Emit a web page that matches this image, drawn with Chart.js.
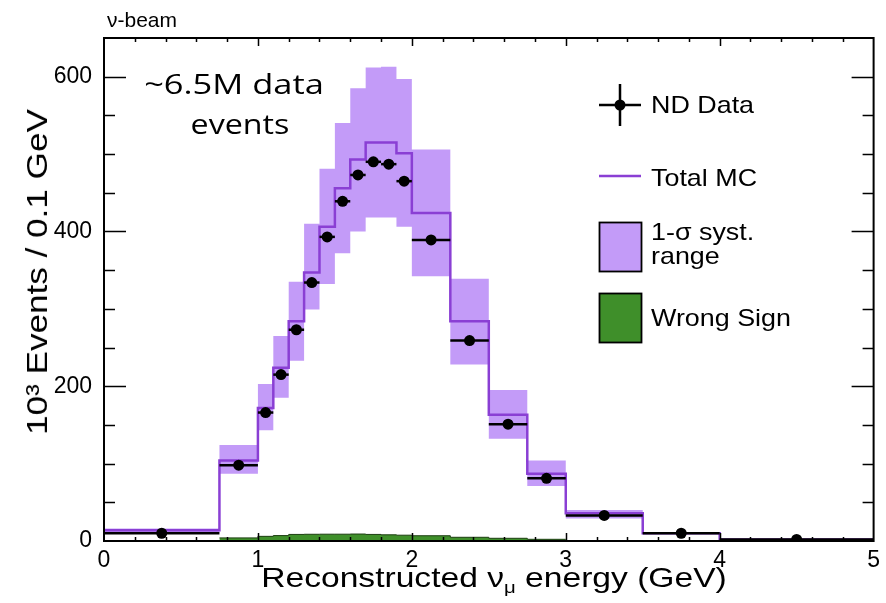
<!DOCTYPE html>
<html>
<head>
<meta charset="utf-8">
<script src="https://cdn.jsdelivr.net/npm/chart.js@4.4.1/dist/chart.umd.min.js"></script>
<style>
  body { margin: 0; background: #fff; }
  #wrap { position: relative; width: 886px; height: 603px; }
  #c { position: absolute; left: 0; top: 0; }
  .t { position: absolute; white-space: nowrap; line-height: 1; color: #000;
       font-family: "Liberation Sans", Arial, sans-serif; transform-origin: 0 0; }
  .note { font-family: "Open Sans", sans-serif; font-size: 28px; width: 300px; text-align: center;
          transform-origin: 50% 50%; transform: scaleX(1.15); }
  .leg { font-size: 24px; transform: scaleX(1.12); }
</style>
</head>
<body>
<div id="wrap">
  <canvas id="c" width="886" height="603"></canvas>
  <div class="t" style="left:107px;top:9px;font-size:21px">ν-beam</div>
  <div class="t note" style="left:84px;top:69px;transform:scaleX(1.23)">~6.5M data</div>
  <div class="t note" style="left:90px;top:109px">events</div>
  <div class="t leg" style="left:651px;top:93px">ND Data</div>
  <div class="t leg" style="left:651px;top:166px">Total MC</div>
  <div class="t leg" style="left:651px;top:220px">1-σ syst.</div>
  <div class="t leg" style="left:651px;top:244px">range</div>
  <div class="t leg" style="left:651px;top:306px">Wrong Sign</div>
  <div class="t" style="left:37px;top:272px;font-size:30px;transform-origin:50% 50%;transform:translate(-50%,-50%) rotate(-90deg) scaleX(1.17)">10³ Events / 0.1 GeV</div>
  <div class="t" style="left:494px;top:564px;font-size:28px;transform-origin:50% 50%;transform:translateX(-50%) scaleX(1.2)">Reconstructed ν<sub style="font-size:17px;vertical-align:-6px">μ</sub> energy (GeV)</div>
</div>
<script>
// bin edges in GeV (variable width histogram)
const binEdges = [0, 0.75, 1.0, 1.1, 1.2, 1.3, 1.4, 1.5, 1.6, 1.7, 1.8, 1.9, 2.0, 2.25, 2.5, 2.75, 3.0, 3.5, 4.0, 5.0];
// values per bin, 10^3 events / 0.1 GeV
const totalMC  = [14, 104, 172, 224, 284, 347, 406, 456, 493, 515, 515, 501, 424, 284, 163, 87, 36, 10, 2];
const systLow  = [11, 87, 143, 185, 233, 299, 332, 372, 400, 418, 418, 406, 342, 228, 132, 71, 29, 9, 2];
const systHigh = [16, 124, 203, 265, 335, 410, 481, 540, 585, 612, 613, 597, 506, 339, 195, 104, 40, 11, 2];
const ndData   = [10, 98, 166, 215, 273, 334, 393, 439, 473, 490, 487, 465, 389, 259, 151, 81, 33, 10, 2];
// wrong sign component, bins 0.75 .. 3.0
const wsEdges   = binEdges.slice(1, 17);
const wrongSign = [4, 6, 7, 8.5, 8.7, 8.8, 8.8, 9, 8.5, 8, 7.5, 6.8, 4.8, 3.5, 2.2];

const yTicks = [0, 200, 400, 600];
const xTicks = [0, 1, 2, 3, 4, 5];

const MC_COLOR = '#8a3fd4';
const BAND_COLOR = '#c39bf8';
const GREEN = '#3f8f2a';

// histogram -> stepped line points (last value repeated at the upper edge)
function steps(edges, vals) {
  return edges.map((x, i) => ({ x: x, y: vals[Math.min(i, vals.length - 1)] }));
}
const dataPts = ndData.map((v, i) => ({ x: (binEdges[i] + binEdges[i + 1]) / 2, y: v }));

// ROOT-like frame, inner ticks, error bars and legend symbols
const rootStyle = {
  id: 'rootStyle',
  afterDatasetsDraw(chart) {
    const { ctx, scales: { x, y } } = chart;
    ctx.save();
    ctx.strokeStyle = '#000';
    ctx.lineWidth = 2.5;
    ndData.forEach((v, i) => {
      const py = y.getPixelForValue(v);
      ctx.beginPath();
      ctx.moveTo(x.getPixelForValue(binEdges[i]), py);
      ctx.lineTo(x.getPixelForValue(binEdges[i + 1]), py);
      ctx.stroke();
    });
    ctx.restore();
  },
  afterDraw(chart) {
    const { ctx, chartArea: a, scales: { x, y } } = chart;
    ctx.save();
    ctx.strokeStyle = '#000';
    ctx.lineWidth = 1.5;
    ctx.beginPath();
    for (let v = 50; v < 650; v += 50) {
      const py = Math.round(y.getPixelForValue(v)) + 0.5;
      const len = v % 200 === 0 ? 22 : 11;
      ctx.moveTo(a.left, py); ctx.lineTo(a.left + len, py);
      ctx.moveTo(a.right, py); ctx.lineTo(a.right - len, py);
    }
    for (let k = 1; k < 25; k++) {
      const px = Math.round(x.getPixelForValue(k * 0.2)) + 0.5;
      const len = k % 5 === 0 ? 8 : 4;
      ctx.moveTo(px, a.bottom); ctx.lineTo(px, a.bottom - len);
      ctx.moveTo(px, a.top); ctx.lineTo(px, a.top + len);
    }
    ctx.stroke();
    ctx.lineWidth = 2;
    ctx.strokeRect(a.left, a.top, a.right - a.left, a.bottom - a.top);

    // legend symbols
    ctx.lineWidth = 2.5;
    ctx.beginPath();
    ctx.moveTo(599, 105); ctx.lineTo(641, 105);
    ctx.moveTo(620, 84); ctx.lineTo(620, 126);
    ctx.stroke();
    ctx.beginPath(); ctx.arc(620, 105, 5.5, 0, Math.PI * 2); ctx.fillStyle = '#000'; ctx.fill();
    ctx.strokeStyle = MC_COLOR;
    ctx.beginPath(); ctx.moveTo(599, 176); ctx.lineTo(641, 176); ctx.stroke();
    ctx.strokeStyle = '#000';
    ctx.lineWidth = 1.8;
    ctx.fillStyle = BAND_COLOR;
    ctx.fillRect(599.5, 222.5, 42, 49); ctx.strokeRect(599.5, 222.5, 42, 49);
    ctx.fillStyle = GREEN;
    ctx.fillRect(599.5, 293.5, 42, 49); ctx.strokeRect(599.5, 293.5, 42, 49);
    ctx.restore();
  }
};

new Chart(document.getElementById('c'), {
  type: 'scatter',
  data: {
    datasets: [
      { type: 'scatter', label: 'ND Data', data: dataPts, pointRadius: 5.5,
        backgroundColor: '#000', borderWidth: 0, order: 0 },
      { type: 'line', label: 'Total MC', data: steps(binEdges, totalMC), stepped: 'before',
        borderColor: MC_COLOR, borderWidth: 2.5, pointRadius: 0, fill: false, order: 1 },
      { type: 'line', label: 'Wrong Sign', data: steps(wsEdges, wrongSign), stepped: 'before',
        borderColor: '#1d3f12', borderWidth: 1, backgroundColor: GREEN, pointRadius: 0, fill: 'origin', order: 2 },
      { type: 'line', label: '1-σ syst. range', data: steps(binEdges, systHigh), stepped: 'before',
        borderColor: 'transparent', borderWidth: 0, backgroundColor: BAND_COLOR, pointRadius: 0, fill: '+1', order: 3 },
      { type: 'line', label: 'syst low', data: steps(binEdges, systLow), stepped: 'before',
        borderColor: 'transparent', borderWidth: 0, pointRadius: 0, fill: false, order: 4 }
    ]
  },
  options: {
    responsive: false,
    animation: false,
    layout: { padding: { top: 38, right: 6, left: 0, bottom: 0 } },
    plugins: { legend: { display: false }, tooltip: { enabled: false } },
    scales: {
      x: {
        type: 'linear', min: 0, max: 5,
        grid: { display: false, drawTicks: false }, border: { display: false },
        afterBuildTicks: s => { s.ticks = xTicks.map(v => ({ value: v })); },
        ticks: { color: '#000', padding: 6, maxRotation: 0, font: { family: 'Liberation Sans', size: 23 } },
        afterFit: s => { s.height = 62; }
      },
      y: {
        min: 0, max: 650,
        grid: { display: false, drawTicks: false }, border: { display: false },
        afterBuildTicks: s => { s.ticks = yTicks.map(v => ({ value: v })); },
        ticks: { color: '#000', padding: 12, font: { family: 'Liberation Sans', size: 23 } },
        afterFit: s => { s.width = 104; }
      }
    }
  },
  plugins: [rootStyle]
});
</script>
</body>
</html>
